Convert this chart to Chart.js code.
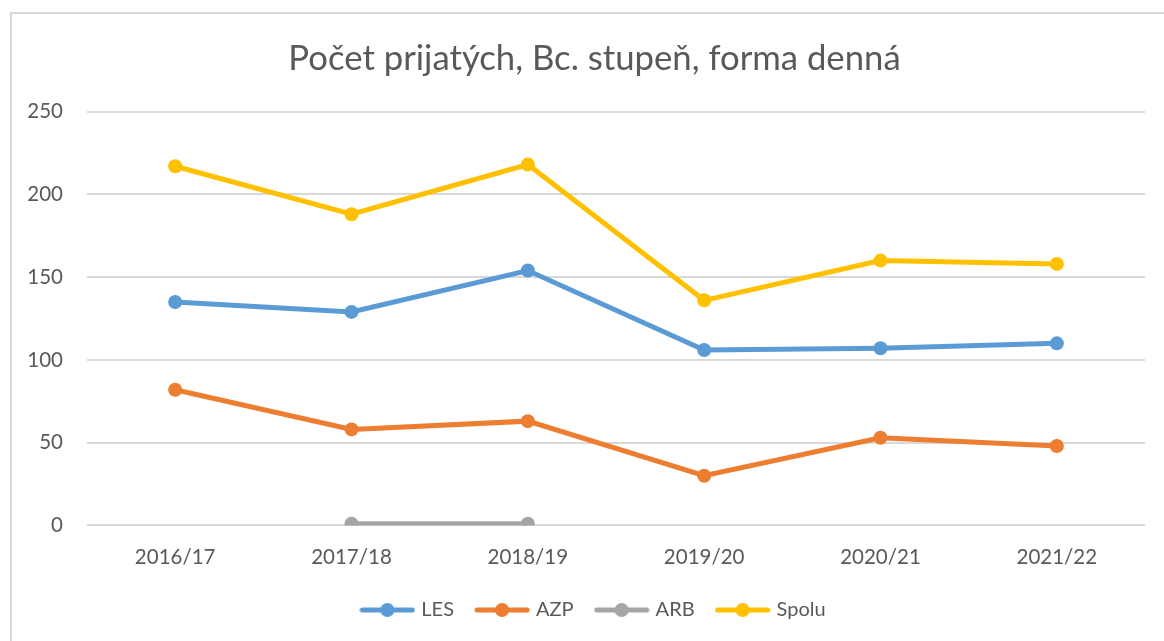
<!DOCTYPE html>
<html>
<head>
<meta charset="utf-8">
<script src="https://cdn.jsdelivr.net/npm/chart.js@4"></script>
<style>
  body { margin: 0; background: #fff; }
  #wrap { position: relative; width: 1164px; height: 641px; }
</style>
</head>
<body>
<div id="wrap"><canvas id="ChartPrijati" width="1164" height="641"></canvas></div>
<script>
const roky = ['2016/17', '2017/18', '2018/19', '2019/20', '2020/21', '2021/22'];
const les = [135, 129, 154, 106, 107, 110];
const azp = [82, 58, 63, 30, 53, 48];
const arb = [null, 1, 1, null, null, null];
const spolu = [217, 188, 218, 136, 160, 158];

const textColor = '#595959';
const fontFamily = 'Lato, "Open Sans", sans-serif';

// legend marker: line with a dot in the middle
const legendMarker = (color) => {
    const c = document.createElement('canvas');
    c.width = 56;
    c.height = 16;
    const g = c.getContext('2d');
    g.strokeStyle = color;
    g.lineWidth = 5;
    g.lineCap = 'round';
    g.beginPath();
    g.moveTo(3, 8);
    g.lineTo(53, 8);
    g.stroke();
    g.fillStyle = color;
    g.beginPath();
    g.arc(28, 8, 7, 0, Math.PI * 2);
    g.fill();
    return c;
};

const serie = (label, data, color) => ({
    label: label,
    data: data,
    borderColor: color,
    backgroundColor: color,
    borderWidth: 5,
    pointRadius: 7,
    pointHoverRadius: 7,
    pointBorderWidth: 0,
    pointStyle: 'circle',
    legendMarker: legendMarker(color),
    spanGaps: false,
    tension: 0
});

const ramik = {
    id: 'ramik',
    beforeDraw(chart) {
        const c = chart.ctx;
        c.save();
        c.strokeStyle = '#d9d9d9';
        c.lineWidth = 2;
        c.beginPath();
        c.moveTo(11, 641);
        c.lineTo(11, 13);
        c.lineTo(1164, 13);
        c.stroke();
        c.restore();
    }
};

const ctx = document.getElementById('ChartPrijati');

const chart = new Chart(ctx, {
    type: 'line',
    data: {
        labels: roky,
        datasets: [
            serie('LES', les, '#5B9BD5'),
            serie('AZP', azp, '#ED7D31'),
            serie('ARB', arb, '#A5A5A5'),
            serie('Spolu', spolu, '#FFC000')
        ]
    },
    options: {
        responsive: false,
        animation: false,
        layout: {
            padding: { left: 27, right: 2, top: 38, bottom: 11 }
        },
        scales: {
            x: {
                offset: true,
                afterFit(scale) { scale.height -= 14; },
                grid: { display: false, drawTicks: false },
                border: { display: false },
                ticks: {
                    color: textColor,
                    font: { family: fontFamily, size: 20.5 },
                    padding: 20,
                    maxRotation: 0
                }
            },
            y: {
                min: 0,
                max: 250,
                afterFit(scale) { scale.width = 60; },
                grid: { color: '#d9d9d9', lineWidth: 2, drawTicks: false },
                border: { display: false },
                ticks: {
                    stepSize: 50,
                    color: textColor,
                    font: { family: fontFamily, size: 20.5 },
                    padding: 24
                }
            },
            vpravo: {
                position: 'right',
                min: 0,
                max: 250,
                afterFit(scale) { scale.width = 17; },
                grid: { display: false, drawTicks: false },
                border: { display: false },
                ticks: { display: false }
            }
        },
        plugins: {
            title: {
                display: true,
                text: 'Počet prijatých, Bc. stupeň, forma denná',
                color: textColor,
                font: { family: fontFamily, size: 34.7, weight: 'normal' },
                padding: { top: 0, bottom: 32 }
            },
            legend: {
                position: 'bottom',
                labels: {
                    usePointStyle: true,
                    pointStyleWidth: 48,
                    boxHeight: 16,
                    padding: 24,
                    color: textColor,
                    font: { family: fontFamily, size: 20 },
                    generateLabels(chart) {
                        return chart.data.datasets.map((ds, i) => ({
                            text: ds.label,
                            fillStyle: ds.borderColor,
                            strokeStyle: ds.borderColor,
                            fontColor: textColor,
                            lineWidth: 0,
                            pointStyle: ds.legendMarker,
                            hidden: false,
                            datasetIndex: i
                        }));
                    }
                }
            },
            tooltip: { enabled: false }
        }
    },
    plugins: [ramik]
});
</script>
</body>
</html>
